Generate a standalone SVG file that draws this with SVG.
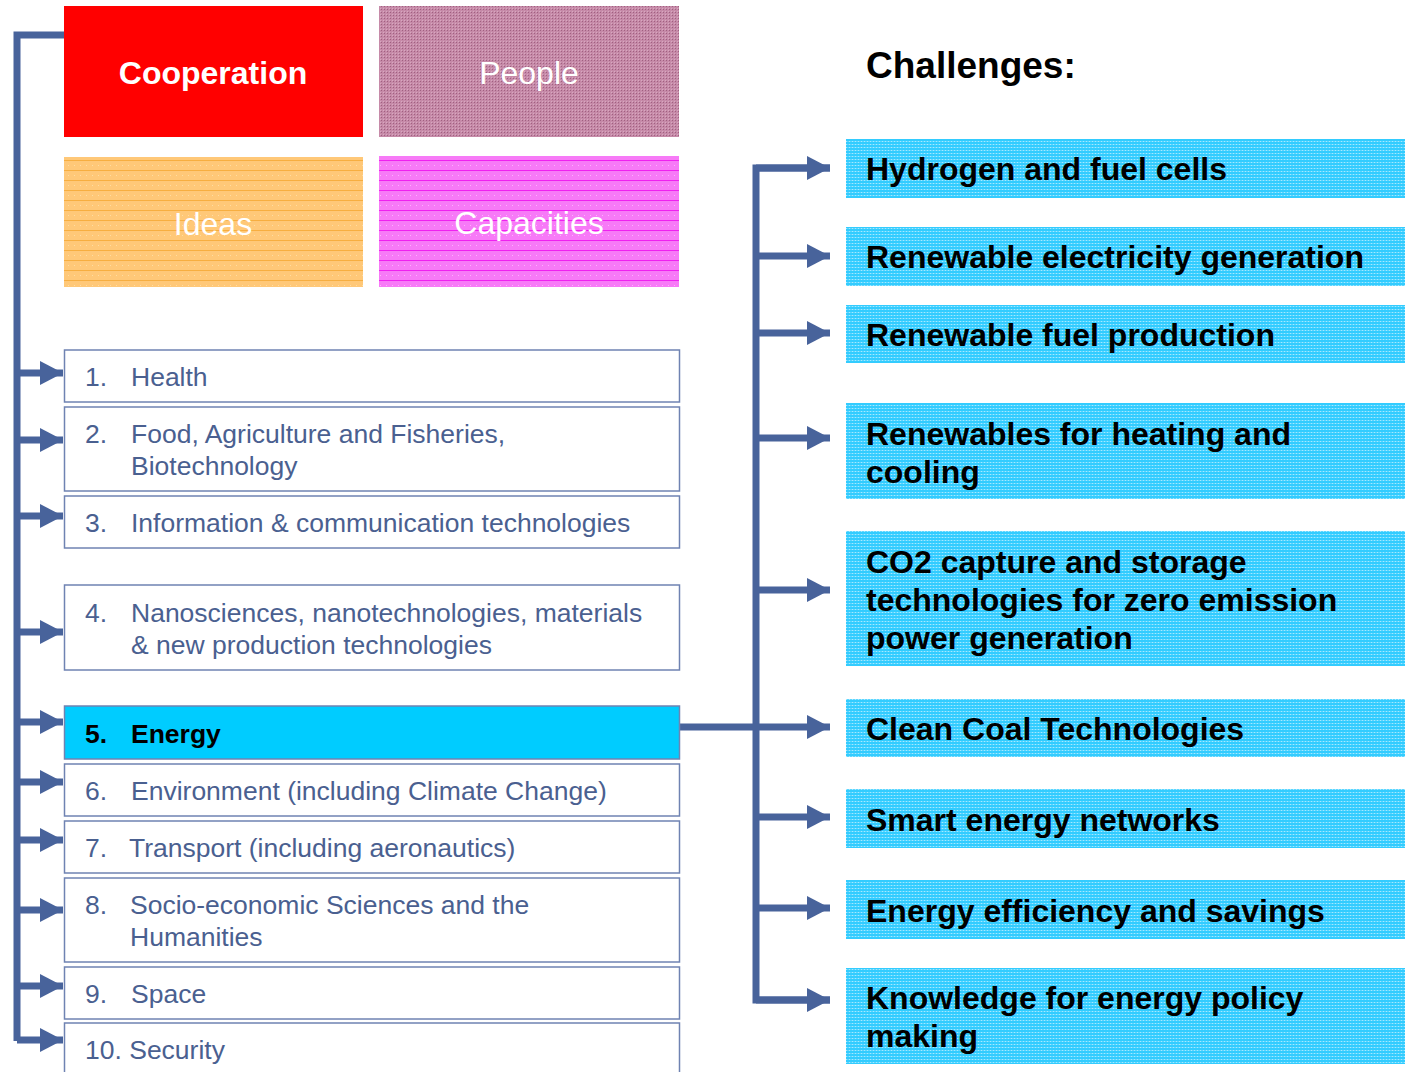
<svg xmlns="http://www.w3.org/2000/svg" width="1405" height="1072" viewBox="0 0 1405 1072">
<defs>
<pattern id="pBlue" width="3" height="3" patternUnits="userSpaceOnUse">
<rect width="3" height="3" fill="#33CCFF"/>
<rect width="1" height="1" fill="#A6E9FF"/>
<rect x="1" width="2" height="1" fill="#5DD6FF"/>
</pattern>
<pattern id="pPeople" width="3" height="3" patternUnits="userSpaceOnUse">
<rect width="3" height="3" fill="#C68AA8"/>
<rect width="1" height="1" fill="#A06080"/>
<rect x="2" y="2" width="1" height="1" fill="#D8A8C0"/>
</pattern>
<pattern id="pIdeas" width="6" height="10" patternUnits="userSpaceOnUse">
<rect width="6" height="10" fill="#FFC878"/>
<rect y="0" width="6" height="1" fill="#F7AE40"/>
<rect x="2" y="5" width="1" height="1" fill="#FFDDA0"/>
</pattern>
<pattern id="pCap" width="6" height="10" patternUnits="userSpaceOnUse">
<rect width="6" height="10" fill="#F77AF7"/>
<rect y="0" width="6" height="1" fill="#F020F0"/>
<rect x="2" y="5" width="1" height="1" fill="#FFB0FF"/>
</pattern>
<marker id="ah" markerUnits="userSpaceOnUse" markerWidth="24" markerHeight="24" refX="23" refY="12" orient="auto">
<path d="M0,0 L23,12 L0,24 Z" fill="#48639B"/>
</marker>
</defs>
<style>
.top{font-family:"Liberation Sans",Arial,sans-serif;font-size:32px;fill:#fff;text-anchor:middle}
.lst{fill:#fff;stroke:#6F83B2;stroke-width:1.5}
.lt{font-family:"Liberation Sans",Arial,sans-serif;font-size:26.5px;fill:#4A6090}
.rb{fill:url(#pBlue)}
.rt{font-family:"Liberation Sans",Arial,sans-serif;font-size:32px;font-weight:bold;fill:#000}
.con{fill:none;stroke:#48639B;stroke-width:7}
</style>

<g id="connectors">
<path class="con" d="M64,35 H17 V1041"/>
<path class="con" d="M17,373 H63" marker-end="url(#ah)"/>
<path class="con" d="M17,440 H63" marker-end="url(#ah)"/>
<path class="con" d="M17,516 H63" marker-end="url(#ah)"/>
<path class="con" d="M17,632 H63" marker-end="url(#ah)"/>
<path class="con" d="M17,722 H63" marker-end="url(#ah)"/>
<path class="con" d="M17,782 H63" marker-end="url(#ah)"/>
<path class="con" d="M17,840 H63" marker-end="url(#ah)"/>
<path class="con" d="M17,910 H63" marker-end="url(#ah)"/>
<path class="con" d="M17,986 H63" marker-end="url(#ah)"/>
<path class="con" d="M17,1040 H63" marker-end="url(#ah)"/>
<path class="con" d="M830,168 H756 V1000 H830"/>
<path class="con" d="M756,168 H830" marker-end="url(#ah)"/>
<path class="con" d="M756,256 H830" marker-end="url(#ah)"/>
<path class="con" d="M756,333 H830" marker-end="url(#ah)"/>
<path class="con" d="M756,438 H830" marker-end="url(#ah)"/>
<path class="con" d="M756,590 H830" marker-end="url(#ah)"/>
<path class="con" d="M680,727 H830" marker-end="url(#ah)"/>
<path class="con" d="M756,817 H830" marker-end="url(#ah)"/>
<path class="con" d="M756,908 H830" marker-end="url(#ah)"/>
<path class="con" d="M756,1000 H830" marker-end="url(#ah)"/>
</g>

<g id="cooperation"><rect x="64" y="6" width="299" height="131" fill="#FF0000"/><text class="top" x="213" y="84" font-weight="bold">Cooperation</text></g>
<g id="people"><rect x="379" y="6" width="300" height="131" fill="url(#pPeople)"/><text class="top" x="529" y="84">People</text></g>
<g id="ideas"><rect x="64" y="157" width="299" height="130" fill="url(#pIdeas)"/><text class="top" x="213" y="235">Ideas</text></g>
<g id="capacities"><rect x="379" y="156" width="300" height="131" fill="url(#pCap)"/><text class="top" x="529" y="234">Capacities</text></g>

<text x="866" y="78" font-family="Liberation Sans, Arial, sans-serif" font-size="37" font-weight="bold" fill="#000">Challenges:</text>

<g id="health"><rect class="lst" x="64.5" y="350" width="615" height="52"/><text class="lt" x="85" y="386">1.</text><text class="lt" x="131" y="386">Health</text></g>
<g id="food"><rect class="lst" x="64.5" y="407" width="615" height="84"/><text class="lt" x="85" y="443">2.</text><text class="lt" x="131" y="443">Food, Agriculture and Fisheries,</text><text class="lt" x="131" y="475">Biotechnology</text></g>
<g id="ict"><rect class="lst" x="64.5" y="496" width="615" height="52"/><text class="lt" x="85" y="532">3.</text><text class="lt" x="131" y="532">Information &amp; communication technologies</text></g>
<g id="nano"><rect class="lst" x="64.5" y="585" width="615" height="85"/><text class="lt" x="85" y="622">4.</text><text class="lt" x="131" y="622">Nanosciences, nanotechnologies, materials</text><text class="lt" x="131" y="654">&amp; new production technologies</text></g>
<g id="energy"><rect x="64.5" y="706" width="615" height="53" fill="#00CCFF" stroke="#6F83B2" stroke-width="1.5"/><text class="lt" x="85" y="743" font-weight="bold" style="fill:#000">5.</text><text class="lt" x="131" y="743" font-weight="bold" style="fill:#000">Energy</text></g>
<g id="environment"><rect class="lst" x="64.5" y="764" width="615" height="52"/><text class="lt" x="85" y="800">6.</text><text class="lt" x="131" y="800">Environment (including Climate Change)</text></g>
<g id="transport"><rect class="lst" x="64.5" y="821" width="615" height="52"/><text class="lt" x="85" y="857">7.</text><text class="lt" x="129" y="857">Transport (including aeronautics)</text></g>
<g id="socio"><rect class="lst" x="64.5" y="878" width="615" height="84"/><text class="lt" x="85" y="914">8.</text><text class="lt" x="130" y="914">Socio-economic Sciences and the</text><text class="lt" x="130" y="946">Humanities</text></g>
<g id="space"><rect class="lst" x="64.5" y="967" width="615" height="52"/><text class="lt" x="85" y="1003">9.</text><text class="lt" x="131" y="1003">Space</text></g>
<g id="security"><rect class="lst" x="64.5" y="1023" width="615" height="60"/><text class="lt" x="85" y="1059">10. Security</text></g>

<g id="hydrogen"><rect class="rb" x="846" y="139" width="559" height="59"/><text class="rt" x="866" y="180">Hydrogen and fuel cells</text></g>
<g id="ren-elec"><rect class="rb" x="846" y="227" width="559" height="59"/><text class="rt" x="866" y="268">Renewable electricity generation</text></g>
<g id="ren-fuel"><rect class="rb" x="846" y="305" width="559" height="58"/><text class="rt" x="866" y="346">Renewable fuel production</text></g>
<g id="ren-heat"><rect class="rb" x="846" y="403" width="559" height="96"/><text class="rt" x="866" y="445">Renewables for heating and</text><text class="rt" x="866" y="483">cooling</text></g>
<g id="co2"><rect class="rb" x="846" y="531" width="559" height="135"/><text class="rt" x="866" y="573">CO2 capture and storage</text><text class="rt" x="866" y="611">technologies for zero emission</text><text class="rt" x="866" y="649">power generation</text></g>
<g id="coal"><rect class="rb" x="846" y="699" width="559" height="58"/><text class="rt" x="866" y="740">Clean Coal Technologies</text></g>
<g id="smart"><rect class="rb" x="846" y="789" width="559" height="59"/><text class="rt" x="866" y="831">Smart energy networks</text></g>
<g id="efficiency"><rect class="rb" x="846" y="880" width="559" height="59"/><text class="rt" x="866" y="922">Energy efficiency and savings</text></g>
<g id="knowledge"><rect class="rb" x="846" y="968" width="559" height="96"/><text class="rt" x="866" y="1009">Knowledge for energy policy</text><text class="rt" x="866" y="1047">making</text></g>
</svg>
